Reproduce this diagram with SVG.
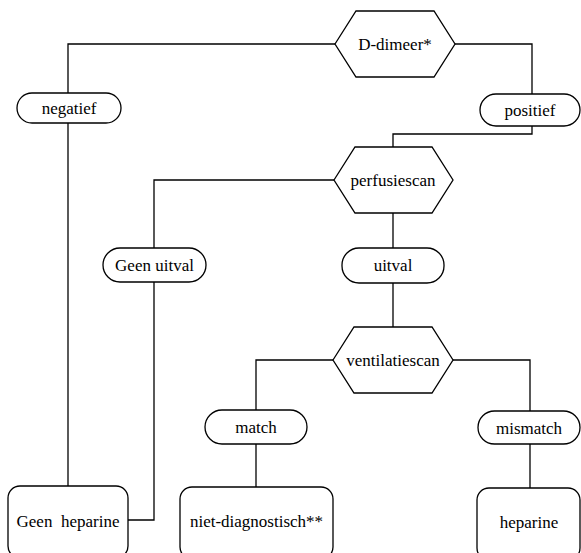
<svg xmlns="http://www.w3.org/2000/svg" width="581" height="553" viewBox="0 0 581 553">
<style>
.s{fill:#fff;stroke:#000;stroke-width:1.3}
.c{fill:none;stroke:#000;stroke-width:1.3}
.t{font-size:17px;fill:#000;text-anchor:middle;white-space:pre}
</style>
<rect width="581" height="553" fill="#fff"/>
<g id="connectors">
<path class="c" d="M335,44 H68 V93"/>
<path class="c" d="M455,44 H532 V94"/>
<path class="c" d="M68,123 V486"/>
<path class="c" d="M532,126 V134 H393 V147"/>
<path class="c" d="M334,180 H154 V248"/>
<path class="c" d="M393,213 V248"/>
<path class="c" d="M154,282 V520 H128"/>
<path class="c" d="M393,283 V327"/>
<path class="c" d="M333,360 H256 V410"/>
<path class="c" d="M453,360 H530 V411"/>
<path class="c" d="M256,444 V487"/>
<path class="c" d="M530,444 V488"/>
</g>
<g font-family="'Liberation Serif', 'Times New Roman', serif">
<g id="ddimeer">
<polygon class="s" points="335,44 356,11 434,11 455,44 434,77 356,77"/>
<text class="t" x="395" y="50">D-dimeer*</text>
</g>
<g id="negatief">
<rect class="s" x="17" y="93" width="104" height="30" rx="15"/>
<text class="t" x="69" y="114">negatief</text>
</g>
<g id="positief">
<rect class="s" x="480" y="94" width="100" height="32" rx="16"/>
<text class="t" x="530" y="116">positief</text>
</g>
<g id="perfusiescan">
<polygon class="s" points="334,180 355,147 432,147 453,180 432,213 355,213"/>
<text class="t" x="393" y="186">perfusiescan</text>
</g>
<g id="geenuitval">
<rect class="s" x="103" y="248" width="103" height="34" rx="17"/>
<text class="t" x="154.5" y="271">Geen uitval</text>
</g>
<g id="uitval">
<rect class="s" x="342" y="248" width="102" height="35" rx="17"/>
<text class="t" x="393" y="271">uitval</text>
</g>
<g id="ventilatiescan">
<polygon class="s" points="333,360 354,327 432,327 453,360 432,393 354,393"/>
<text class="t" x="393" y="366">ventilatiescan</text>
</g>
<g id="match">
<rect class="s" x="205" y="410" width="102" height="34" rx="17"/>
<text class="t" x="256" y="433">match</text>
</g>
<g id="mismatch">
<rect class="s" x="478" y="411" width="102" height="33" rx="16.5"/>
<text class="t" x="529" y="434">mismatch</text>
</g>
<g id="geenheparine">
<rect class="s" x="8" y="486" width="120" height="72" rx="12"/>
<text class="t" x="68" y="527">Geen  heparine</text>
</g>
<g id="nietdiagnostisch">
<rect class="s" x="180" y="487" width="153" height="72" rx="12"/>
<text class="t" x="256.5" y="527">niet-diagnostisch**</text>
</g>
<g id="heparine">
<rect class="s" x="477" y="488" width="103" height="72" rx="12"/>
<text class="t" x="529" y="528">heparine</text>
</g>
</g>
</svg>
